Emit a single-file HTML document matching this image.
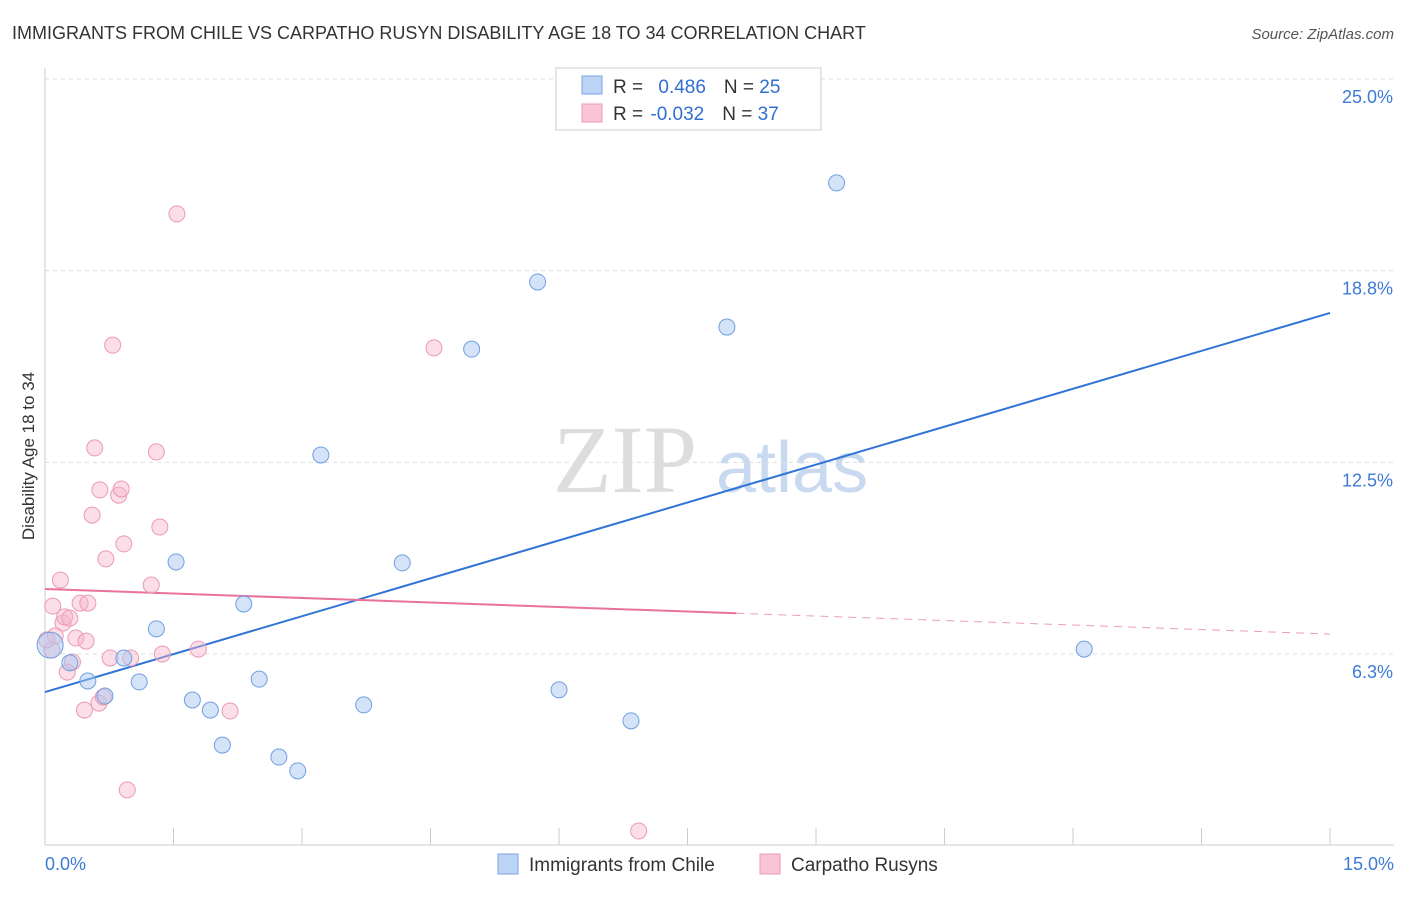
<!DOCTYPE html>
<html><head><meta charset="utf-8"><style>
body{margin:0;background:#fff;font-family:"Liberation Sans",sans-serif}
</style></head><body>
<svg width="1406" height="892" viewBox="0 0 1406 892" xmlns="http://www.w3.org/2000/svg">
<text x="12" y="39" font-size="18" fill="#333">IMMIGRANTS FROM CHILE VS CARPATHO RUSYN DISABILITY AGE 18 TO 34 CORRELATION CHART</text>
<text x="1394" y="39" font-size="15" fill="#555" font-style="italic" text-anchor="end">Source: ZipAtlas.com</text>
<g>
<text x="553" y="492" font-size="96" fill="#ddd" font-family="Liberation Serif,serif">ZIP</text>
<text x="716" y="492" font-size="72" fill="#c9d9ef">atlas</text>
</g>
<g id="grid"></g><g id="axes"></g><g id="lines"></g><g id="pts"></g>
<text x="34" y="456" font-size="17" fill="#333" transform="rotate(-90 34 456)" text-anchor="middle">Disability Age 18 to 34</text>
<g>
<rect x="556" y="68" width="265" height="62" fill="#fff" stroke="#ccc"/>
<rect x="582" y="76" width="20" height="18" fill="#bcd4f5" stroke="#7aa5e0"/>
<rect x="582" y="104" width="20" height="18" fill="#f9c5d5" stroke="#eb9ab4"/>
<text x="613" y="93" font-size="19" fill="#333">R = <tspan fill="#2f6fd0" dx="10">0.486</tspan><tspan dx="18" fill="#333">N = </tspan><tspan fill="#2f6fd0">25</tspan></text>
<text x="613" y="120" font-size="19" fill="#333">R = <tspan fill="#2f6fd0" dx="2">-0.032</tspan><tspan dx="18" fill="#333">N = </tspan><tspan fill="#2f6fd0">37</tspan></text>
</g>
<g>
<rect x="498" y="854" width="20" height="20" fill="#bcd4f5" stroke="#7aa5e0"/>
<text x="529" y="871" font-size="19" fill="#333">Immigrants from Chile</text>
<rect x="760" y="854" width="20" height="20" fill="#f9c5d5" stroke="#eb9ab4"/>
<text x="791" y="871" font-size="19" fill="#333">Carpatho Rusyns</text>
</g>
<text x="45" y="870" font-size="18" fill="#3d7bd6">0.0%</text>
<text x="1394" y="870" font-size="18" fill="#3d7bd6" text-anchor="end">15.0%</text>
</svg>
<script>
const yTicks=[6.25,12.5,18.75,25];
const yTickLabels=["6.3%","12.5%","18.8%","25.0%"];
const xTicks=[0,1.5,3,4.5,6,7.5,9,10.5,12,13.5,15];
const blueX=[0.06,0.29,0.50,0.70,0.92,1.10,1.30,1.53,1.72,1.93,2.07,2.32,2.50,2.73,2.95,3.22,3.72,4.17,4.98,5.75,6.00,6.84,7.96,9.24,12.13];
const blueY=[6.54,5.96,5.37,4.88,6.12,5.34,7.07,9.25,4.75,4.42,3.28,7.88,5.43,2.89,2.44,12.74,4.59,9.22,16.19,18.38,5.08,4.07,16.91,21.61,6.41];
const pinkX=[0.08,0.09,0.12,0.18,0.21,0.23,0.26,0.29,0.32,0.36,0.41,0.46,0.48,0.50,0.55,0.58,0.63,0.64,0.68,0.71,0.76,0.79,0.86,0.89,0.92,0.96,1.00,1.24,1.30,1.34,1.37,1.54,1.79,2.16,4.54,6.93,0.02];
const pinkY=[6.38,7.81,6.84,8.66,7.26,7.46,5.66,7.42,5.99,6.77,7.91,4.42,6.67,7.91,10.78,12.97,4.65,11.60,4.85,9.35,6.12,16.32,11.43,11.63,9.84,1.82,6.12,8.50,12.84,10.39,6.25,20.60,6.41,4.39,16.23,0.48,6.71];
const blueFit=[5.01,17.37];
const pinkFit=[8.37,6.90];
const pinkSolidEnd=8.07;
const NS="http://www.w3.org/2000/svg";
const sx=v=>45+v*85.67;
const sy=v=>654-(v-6.25)*30.67;
function mk(t,a,p){const e=document.createElementNS(NS,t);for(const k in a)e.setAttribute(k,a[k]);p.appendChild(e);return e;}
const grid=document.getElementById('grid'),axes=document.getElementById('axes'),lines=document.getElementById('lines'),pts=document.getElementById('pts');
yTicks.forEach((v,i)=>{
 const l=mk('line',{x1:45,x2:1394,y1:sy(v),y2:sy(v),stroke:'#ddd','stroke-dasharray':'4 4'},grid);
 
 
 const t=mk('text',{x:1393,y:sy(v)+24,'font-size':18,fill:'#3d7bd6','text-anchor':'end'},grid);
 t.textContent=yTickLabels[i];
 
 
});
const xa=mk('line',{x1:45,x2:1394,y1:845,y2:845,stroke:'#ccc'},axes);


const ya=mk('line',{x1:45,x2:45,y1:68,y2:845,stroke:'#ccc'},axes);


xTicks.forEach(v=>{
 const t=mk('line',{x1:sx(v),x2:sx(v),y1:828,y2:845,stroke:'#ccc'},axes);
 
 
});
const bl=mk('line',{x1:sx(0),y1:sy(blueFit[0]),x2:sx(15),y2:sy(blueFit[1]),stroke:'#2f74d6','stroke-width':2},lines);


const pm=pinkFit[0]+(pinkFit[1]-pinkFit[0])*pinkSolidEnd/15;
const pl=mk('line',{x1:sx(0),y1:sy(pinkFit[0]),x2:sx(pinkSolidEnd),y2:sy(pm),stroke:'#e8729a','stroke-width':2},lines);


const pd=mk('line',{x1:sx(pinkSolidEnd),y1:sy(pm),x2:sx(15),y2:sy(pinkFit[1]),stroke:'#e8a0b8','stroke-width':1,'stroke-dasharray':'8 6'},lines);


pinkX.forEach((x,i)=>{
 const c=mk('circle',{cx:sx(x),cy:sy(pinkY[i]),r:8,fill:'rgba(246,182,202,0.45)',stroke:'#eb9ab4','stroke-width':1},pts);
 
 
});
blueX.forEach((x,i)=>{
 const c=mk('circle',{cx:sx(x),cy:sy(blueY[i]),r:i===0?13:8,fill:'rgba(170,200,242,0.5)',stroke:'#6f9fe0','stroke-width':1},pts);
 
 
});
</script>
</body></html>
